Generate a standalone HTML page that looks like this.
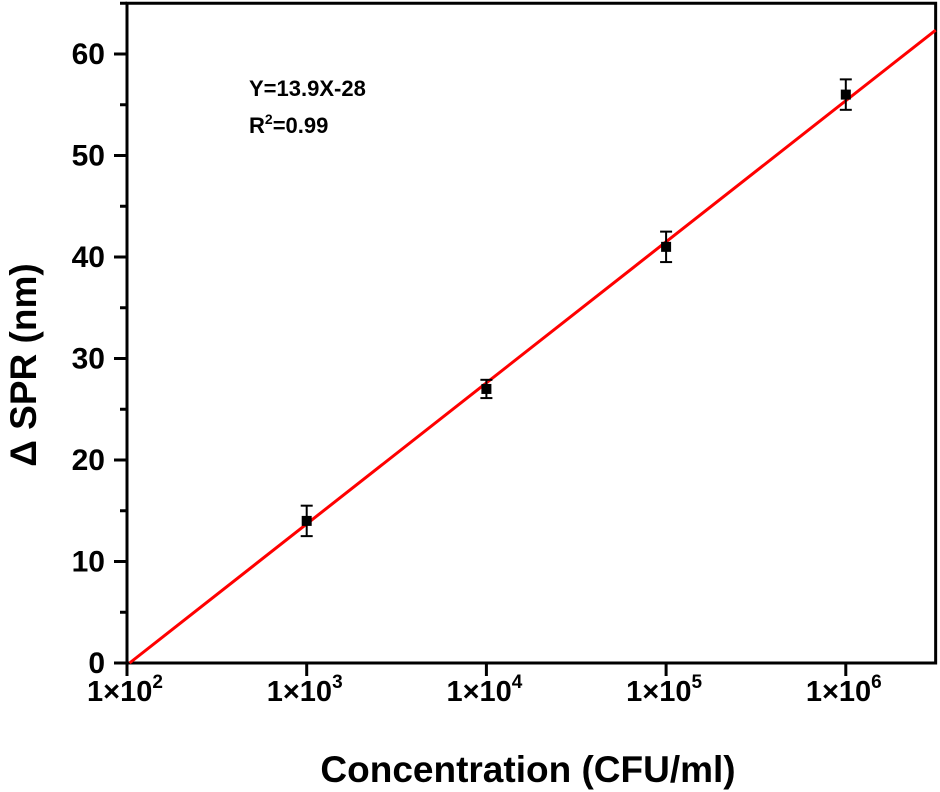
<!DOCTYPE html>
<html><head><meta charset="utf-8"><style>
html,body{margin:0;padding:0;background:#fff;width:940px;height:792px;overflow:hidden}
svg text{font-family:"Liberation Sans",Arial,sans-serif;font-weight:bold;fill:#000}
</style></head><body>
<svg id="chart" width="940" height="792" xmlns="http://www.w3.org/2000/svg"></svg>
<script>
const concentrationsLog = [3, 4, 5, 6];
const spr = [14, 27, 41, 56];
const sprErr = [1.5, 0.9, 1.5, 1.5];
const yTicks = [0, 10, 20, 30, 40, 50, 60];
const xTickExps = [2, 3, 4, 5, 6];
const fitSlope = 13.9;
const fitIntercept = -28;

const X0 = 127, PX_PER_DEC = 179.7, Y0 = 663, PX_PER_UNIT = 10.15;
const xMinLog = 2, xMaxLog = 6.5, yMax = 65;
const sx = l => X0 + (l - xMinLog) * PX_PER_DEC;
const sy = v => Y0 - v * PX_PER_UNIT;
const svgEl = document.getElementById('chart');
const NS = 'http://www.w3.org/2000/svg';
function mk(tag, attrs, parent) {
  const e = document.createElementNS(NS, tag);
  for (const k in attrs) e.setAttribute(k, attrs[k]);
  (parent || svgEl).appendChild(e);
  return e;
}
const rightX = sx(xMaxLog), topY = sy(yMax);

const frame = mk('rect', {x: X0, y: topY, width: rightX - X0, height: Y0 - topY, fill: 'none', stroke: '#000', 'stroke-width': 3});



yTicks.forEach(v => {
  const t = mk('line', {x1: X0 - 13, x2: X0, y1: sy(v), y2: sy(v), stroke: '#000', 'stroke-width': 3});
  
  
  const m = mk('line', {x1: X0 - 7, x2: X0, y1: sy(v + 5), y2: sy(v + 5), stroke: '#000', 'stroke-width': 3});
  
  
  const l = mk('text', {x: X0 - 22, y: sy(v) + 10, 'text-anchor': 'end', 'font-size': 30});
  l.textContent = v;
  
  
});
xTickExps.forEach(e => {
  const t = mk('line', {x1: sx(e), x2: sx(e), y1: Y0, y2: Y0 + 13, stroke: '#000', 'stroke-width': 3});
  
  
  const l = mk('text', {x: sx(e) - 2, y: Y0 + 38, 'text-anchor': 'middle', 'font-size': 29});
  l.textContent = '1×10';
  
  
  const s = mk('tspan', {dy: -13, 'font-size': 19}, l);
  s.textContent = e;
});

const xStart = Math.max((0 - fitIntercept) / fitSlope, xMinLog);
const fit = mk('line', {x1: sx(xStart), y1: sy(fitSlope * xStart + fitIntercept), x2: sx(xMaxLog), y2: sy(fitSlope * xMaxLog + fitIntercept), stroke: '#f00', 'stroke-width': 3});



concentrationsLog.forEach((c, i) => {
  const x = sx(c), y = sy(spr[i]), yt = sy(spr[i] + sprErr[i]), yb = sy(spr[i] - sprErr[i]);
  const g = mk('g', {stroke: '#000', 'stroke-width': 2});
  
  
  mk('line', {x1: x, x2: x, y1: yt, y2: yb}, g);
  mk('line', {x1: x - 6, x2: x + 6, y1: yt, y2: yt}, g);
  mk('line', {x1: x - 6, x2: x + 6, y1: yb, y2: yb}, g);
  const p = mk('rect', {x: x - 5, y: y - 5, width: 10, height: 10, fill: '#000'});
  
  
});

const a1 = mk('text', {x: 249, y: 96, 'font-size': 22});
a1.textContent = 'Y=13.9X-28';


const a2 = mk('text', {x: 249, y: 133, 'font-size': 22});
a2.textContent = 'R';


const sup = mk('tspan', {dy: -9, 'font-size': 14}, a2); sup.textContent = '2';
const rest = mk('tspan', {dy: 9}, a2); rest.textContent = '=0.99';

const xTitle = mk('text', {x: 528, y: 782, 'text-anchor': 'middle', 'font-size': 37});
xTitle.textContent = 'Concentration (CFU/ml)';


const yTitle = mk('text', {x: 0, y: 0, 'text-anchor': 'middle', 'font-size': 37, transform: 'translate(36,365) rotate(-90)'});
yTitle.textContent = 'Δ SPR (nm)';


</script>
</body></html>
